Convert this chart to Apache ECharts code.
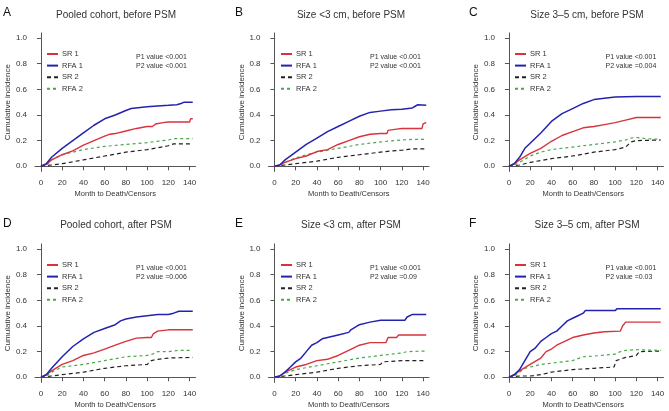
<!DOCTYPE html>
<html><head><meta charset="utf-8">
<script src="https://cdn.jsdelivr.net/npm/echarts@6/dist/echarts.min.js"></script>
<style>html,body{margin:0;padding:0;background:#fff}#c{width:669px;height:411px}</style>
</head><body><div id="c"></div>
<script>
// ---- data ----
const xTicks = [0, 20, 40, 60, 80, 100, 120, 140];
const yTicks = [0, 0.2, 0.4, 0.6, 0.8, 1.0];
const seriesNames = ['SR 1', 'RFA 1', 'SR 2', 'RFA 2'];
const panelLetters = ['A', 'B', 'C', 'D', 'E', 'F'];
const panelTitles = ['Pooled cohort, before PSM', 'Size <3 cm, before PSM', 'Size 3\u20135 cm, before PSM',
                     'Pooled cohort, after PSM', 'Size <3 cm, after PSM', 'Size 3\u20135 cm, after PSM'];
const p1Texts = ['P1 value <0.001', 'P1 value <0.001', 'P1 value <0.001', 'P1 value <0.001', 'P1 value <0.001', 'P1 value <0.001'];
const p2Texts = ['P2 value <0.001', 'P2 value <0.001', 'P2 value =0.004', 'P2 value =0.006', 'P2 value =0.09', 'P2 value =0.03'];

// Panel A
const A_SR1 = [[0,0],[5,0.015],[10,0.05],[20,0.09],[30,0.12],[40,0.165],[50,0.2],[60,0.235],[65,0.25],[70,0.255],[80,0.275],[90,0.295],[100,0.31],[105,0.31],[108,0.33],[115,0.34],[120,0.345],[140,0.345],[141,0.37],[143,0.37]];
const A_RFA1 = [[0,0],[5,0.02],[10,0.07],[20,0.14],[30,0.2],[40,0.26],[50,0.32],[60,0.37],[70,0.4],[80,0.435],[85,0.45],[100,0.465],[110,0.47],[120,0.475],[128,0.48],[132,0.49],[135,0.5],[143,0.5]];
const A_SR2 = [[0,0],[10,0.01],[20,0.02],[40,0.05],[60,0.08],[80,0.11],[100,0.13],[120,0.16],[125,0.175],[143,0.175]];
const A_RFA2 = [[0,0],[5,0.01],[10,0.05],[20,0.09],[40,0.13],[60,0.155],[80,0.17],[100,0.185],[120,0.205],[125,0.215],[143,0.215]];
// Panel B
const B_SR1 = [[0,0],[5,0.01],[10,0.03],[20,0.06],[30,0.08],[40,0.115],[50,0.13],[60,0.17],[70,0.2],[80,0.23],[90,0.25],[100,0.255],[106,0.255],[107,0.28],[115,0.29],[120,0.295],[139,0.295],[140,0.33],[143,0.34]];
const B_RFA1 = [[0,0],[5,0.01],[10,0.05],[20,0.11],[30,0.17],[40,0.22],[50,0.27],[60,0.31],[70,0.35],[80,0.39],[90,0.42],[100,0.43],[110,0.44],[120,0.445],[130,0.455],[133,0.47],[135,0.48],[143,0.475]];
const B_SR2 = [[0,0],[10,0.01],[20,0.02],[40,0.04],[60,0.07],[80,0.09],[100,0.11],[110,0.12],[120,0.125],[130,0.135],[143,0.135]];
const B_RFA2 = [[0,0],[5,0.01],[10,0.03],[20,0.065],[30,0.09],[40,0.11],[60,0.14],[80,0.17],[100,0.19],[120,0.205],[130,0.21],[143,0.21]];
// Panel C
const C_SR1 = [[0,0],[5,0.02],[10,0.05],[20,0.1],[30,0.14],[40,0.195],[50,0.24],[60,0.27],[70,0.3],[80,0.31],[90,0.325],[100,0.34],[110,0.36],[120,0.38],[143,0.38]];
const C_RFA1 = [[0,0],[5,0.02],[10,0.07],[15,0.14],[20,0.18],[30,0.26],[40,0.35],[50,0.41],[60,0.45],[70,0.49],[80,0.52],[90,0.53],[100,0.54],[120,0.545],[143,0.545]];
const C_SR2 = [[0,0],[10,0.01],[20,0.03],[40,0.06],[60,0.08],[80,0.11],[100,0.13],[110,0.15],[115,0.19],[120,0.2],[143,0.205]];
const C_RFA2 = [[0,0],[5,0.01],[10,0.03],[20,0.08],[30,0.11],[40,0.13],[60,0.15],[80,0.17],[100,0.19],[110,0.205],[115,0.22],[120,0.225],[130,0.215],[143,0.21]];
// Panel D
const D_SR1 = [[0,0],[5,0.02],[10,0.05],[20,0.1],[30,0.13],[40,0.17],[50,0.19],[60,0.22],[70,0.25],[80,0.28],[90,0.305],[100,0.31],[104,0.31],[106,0.34],[110,0.36],[120,0.37],[143,0.37]];
const D_RFA1 = [[0,0],[5,0.02],[10,0.07],[20,0.16],[30,0.24],[40,0.3],[50,0.35],[60,0.38],[70,0.41],[75,0.44],[80,0.455],[90,0.47],[100,0.48],[110,0.49],[120,0.49],[125,0.5],[130,0.515],[143,0.515]];
const D_SR2 = [[0,0],[10,0.01],[20,0.02],[40,0.04],[60,0.07],[80,0.09],[100,0.1],[104,0.13],[110,0.14],[120,0.15],[143,0.155]];
const D_RFA2 = [[0,0],[5,0.01],[10,0.04],[20,0.08],[40,0.1],[60,0.13],[80,0.16],[100,0.17],[105,0.18],[110,0.2],[120,0.2],[130,0.21],[143,0.21]];
// Panel E
const E_SR1 = [[0,0],[5,0.01],[10,0.04],[20,0.08],[30,0.1],[40,0.13],[50,0.14],[60,0.17],[70,0.21],[80,0.25],[90,0.27],[105,0.27],[107,0.31],[115,0.31],[117,0.33],[143,0.33]];
const E_RFA1 = [[0,0],[5,0.01],[10,0.04],[15,0.08],[20,0.12],[25,0.15],[30,0.2],[35,0.25],[40,0.27],[45,0.3],[50,0.31],[60,0.33],[70,0.35],[72,0.37],[80,0.41],[90,0.43],[100,0.445],[123,0.445],[125,0.47],[130,0.49],[143,0.49]];
const E_SR2 = [[0,0],[10,0.01],[20,0.02],[40,0.04],[60,0.07],[80,0.09],[100,0.1],[102,0.12],[120,0.13],[143,0.13]];
const E_RFA2 = [[0,0],[5,0.01],[10,0.03],[20,0.06],[40,0.09],[60,0.12],[80,0.15],[90,0.16],[100,0.17],[110,0.18],[120,0.19],[125,0.2],[143,0.205]];
// Panel F
const F_SR1 = [[0,0],[5,0.02],[10,0.05],[20,0.1],[30,0.15],[35,0.2],[40,0.22],[45,0.25],[50,0.27],[55,0.29],[60,0.31],[70,0.33],[80,0.345],[90,0.355],[105,0.36],[107,0.4],[110,0.43],[143,0.43]];
const F_RFA1 = [[0,0],[5,0.02],[10,0.06],[15,0.13],[20,0.2],[25,0.23],[30,0.28],[35,0.31],[40,0.34],[45,0.36],[50,0.4],[55,0.44],[60,0.46],[65,0.48],[70,0.5],[72,0.52],[100,0.52],[102,0.535],[143,0.535]];
const F_SR2 = [[0,0],[10,0.01],[20,0.01],[30,0.02],[40,0.04],[60,0.06],[80,0.07],[99,0.08],[101,0.13],[110,0.155],[120,0.17],[123,0.2],[143,0.205]];
const F_RFA2 = [[0,0],[5,0.01],[10,0.04],[15,0.07],[20,0.08],[30,0.1],[40,0.11],[60,0.13],[70,0.16],[80,0.165],[100,0.18],[105,0.2],[110,0.21],[120,0.215],[143,0.21]];

const panelData = [
  [A_SR1, A_RFA1, A_SR2, A_RFA2],
  [B_SR1, B_RFA1, B_SR2, B_RFA2],
  [C_SR1, C_RFA1, C_SR2, C_RFA2],
  [D_SR1, D_RFA1, D_SR2, D_RFA2],
  [E_SR1, E_RFA1, E_SR2, E_RFA2],
  [F_SR1, F_RFA1, F_SR2, F_RFA2]
];

// ---- layout / style ----
const FONT = 'Liberation Sans, Arial, Helvetica, sans-serif';
const colLeft = [35, 268.5, 503];
const rowTop = [32.9, 243.9];
const gridW = 160.5, gridH = 138.5;
const titleCx = [116, 351, 587];
const titleCy = [15.3, 225.7];
const letterX = [3, 235, 469];
const letterCy = [12.8, 223.6];
const legendLeft = [46, 280, 514];
const pLeft = [136, 370, 605.5];
const styles = [
  {color: '#d8333c', type: 'solid', width: 1.4},
  {color: '#2323b0', type: 'solid', width: 1.5},
  {color: '#222222', type: [4, 3], width: 1.2},
  {color: '#4aa84a', type: [3, 3], width: 1.2}
];

const grid = [], xAxis = [], yAxis = [], series = [], legend = [], graphic = [];
for (let p = 0; p < 6; p++) {
  const col = p % 3, row = Math.floor(p / 3);
  const left = colLeft[col], top = rowTop[row];
  grid.push({left: left, top: top, width: gridW, height: gridH, containLabel: false, outerBoundsMode: 'none'});
  xAxis.push({
    type: 'value', gridIndex: p, min: -5.6, max: 145.6,
    name: 'Month to Death/Censors', nameLocation: 'middle', nameGap: 18.5,
    nameTextStyle: {fontFamily: FONT, fontSize: 7.5, color: '#333'},
    axisLine: {show: true, lineStyle: {color: '#555', width: 1}},
    axisTick: {show: true, length: 4, lineStyle: {color: '#555'}, customValues: xTicks},
    axisLabel: {show: true, margin: 7.5, fontFamily: FONT, fontSize: 8, color: '#333', customValues: xTicks},
    splitLine: {show: false}
  });
  yAxis.push({
    type: 'value', gridIndex: p, min: -0.04, max: 1.04,
    name: 'Cumulative incidence', nameLocation: 'middle', nameGap: 23, nameRotate: 90,
    nameTextStyle: {fontFamily: FONT, fontSize: 8, color: '#333'},
    axisLine: {show: true, lineStyle: {color: '#555', width: 1}},
    axisTick: {show: true, length: 4, lineStyle: {color: '#555'}, customValues: yTicks},
    axisLabel: {show: true, margin: 8, fontFamily: FONT, fontSize: 8, color: '#333', customValues: yTicks,
                formatter: v => v.toFixed(1)},
    splitLine: {show: false}
  });
  for (let s = 0; s < 4; s++) {
    series.push({
      name: seriesNames[s], type: 'line', xAxisIndex: p, yAxisIndex: p,
      data: panelData[p][s], symbol: 'none', showSymbol: false, animation: false,
      lineStyle: {color: styles[s].color, type: styles[s].type, width: styles[s].width},
      itemStyle: {color: styles[s].color}, z: 2 + (s < 2 ? 1 : 0)
    });
  }
  legend.push({
    orient: 'vertical', left: legendLeft[col], top: top + 5.1 + 16 - 4.5, padding: 0,
    data: seriesNames, itemWidth: 11, itemHeight: 9, itemGap: 2.6,
    selectedMode: false,
    itemStyle: {color: 'rgba(0,0,0,0)', borderWidth: 0, opacity: 0},
    textStyle: {fontFamily: FONT, fontSize: 7.5, color: '#333', lineHeight: 9, padding: [0, 0, 0, -1]}
  });
  graphic.push({type: 'text', x: titleCx[col], y: titleCy[row],
    style: {text: panelTitles[p], font: '10px ' + FONT, fill: '#333', align: 'center', verticalAlign: 'middle'}});
  graphic.push({type: 'text', x: letterX[col], y: letterCy[row],
    style: {text: panelLetters[p], font: '12px ' + FONT, fill: '#111', align: 'left', verticalAlign: 'middle'}});
  graphic.push({type: 'text', x: pLeft[col], y: top + 5.1 + 19,
    style: {text: p1Texts[p], font: '7px ' + FONT, fill: '#333', align: 'left', verticalAlign: 'middle'}});
  graphic.push({type: 'text', x: pLeft[col], y: top + 5.1 + 28.4,
    style: {text: p2Texts[p], font: '7px ' + FONT, fill: '#333', align: 'left', verticalAlign: 'middle'}});
}

const chart = echarts.init(document.getElementById('c'), null, {renderer: 'canvas'});
chart.setOption({backgroundColor: '#fff', animation: false, grid, xAxis, yAxis, series, legend, graphic});
</script></body></html>
